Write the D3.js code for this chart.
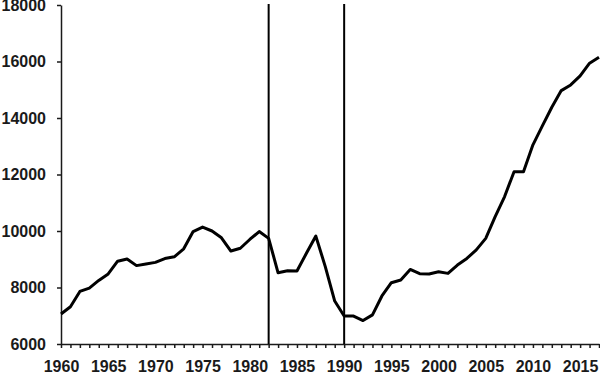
<!DOCTYPE html>
<html>
<head>
<meta charset="utf-8">
<script src="https://cdn.jsdelivr.net/npm/d3@7"></script>
<style>
  body { margin: 0; background: #fff; }
  svg { display: block; }
  .axis text { font-family: "Liberation Sans", Arial, sans-serif; font-weight: bold; font-size: 16px; fill: #1a1a1a; }
  .axis path, .axis line { stroke: #1a1a1a; stroke-width: 1.5; }
</style>
</head>
<body>
<div id="chart"></div>
<script>
const width = 600, height = 375;
const margin = {top: 5, right: 1, bottom: 31, left: 61};

// values
const years = d3.range(1960, 2018);
const values = [
  7060, 7320, 7860, 7980, 8250, 8480, 8930, 9010, 8775, 8835,
  8890, 9025, 9085, 9370, 9980, 10140, 10000, 9760, 9290, 9390,
  9700, 9980, 9740, 8520, 8595, 8585, 9210, 9820, 8740, 7520,
  6990, 6990, 6830, 7030, 7700, 8170, 8265, 8640, 8490, 8480,
  8560, 8500, 8795, 9030, 9330, 9740, 10510, 11220, 12100, 12100,
  13050, 13720, 14380, 14970, 15170, 15490, 15940, 16150
];
const xLabels = [1960, 1965, 1970, 1975, 1980, 1985, 1990, 1995, 2000, 2005, 2010, 2015];
const yTicks = [6000, 8000, 10000, 12000, 14000, 16000, 18000];
const markerYears = [1982, 1990];

const data = years.map((y, i) => ({year: y, value: values[i]}));

let svg = d3.select("#chart")
    .append("svg")
    .attr("width", width)
    .attr("height", height);

let innerW = width - margin.left - margin.right;
let innerH = height - margin.top - margin.bottom;

let g = svg.append("g")
    .attr("transform", `translate(${margin.left},${margin.top})`);

let x = d3.scaleLinear()
    .domain([1960, 2017])
    .range([0, innerW]);

let y = d3.scaleLinear()
    .domain([6000, 18000])
    .range([innerH, 0]);

g.append("g")
    .attr("class", "axis")
    .attr("transform", `translate(0,${innerH})`)
    .call(d3.axisBottom(x)
        .tickValues(years)
        .tickSize(4)
        .tickSizeOuter(0)
        .tickPadding(13)
        .tickFormat(d => xLabels.includes(d) ? d : ""));

g.append("g")
    .attr("class", "axis")
    .call(d3.axisLeft(y)
        .tickValues(yTicks)
        .tickSize(4)
        .tickSizeOuter(0)
        .tickPadding(11)
        .tickFormat(d3.format("d")));

// vertical marker lines
g.selectAll(".marker")
    .data(markerYears)
    .enter()
    .append("line")
    .attr("class", "marker")
    .attr("x1", d => x(d))
    .attr("x2", d => x(d))
    .attr("y1", y(18000) - 1)
    .attr("y2", innerH)
    .attr("stroke", "#000")
    .attr("stroke-width", 2);

g.append("path")
    .datum(data)
    .attr("fill", "none")
    .attr("stroke", "#000")
    .attr("stroke-width", 3)
    .attr("stroke-linejoin", "round")
    .attr("d", d3.line()
        .x(d => x(d.year))
        .y(d => y(d.value)));
</script>
</body>
</html>
